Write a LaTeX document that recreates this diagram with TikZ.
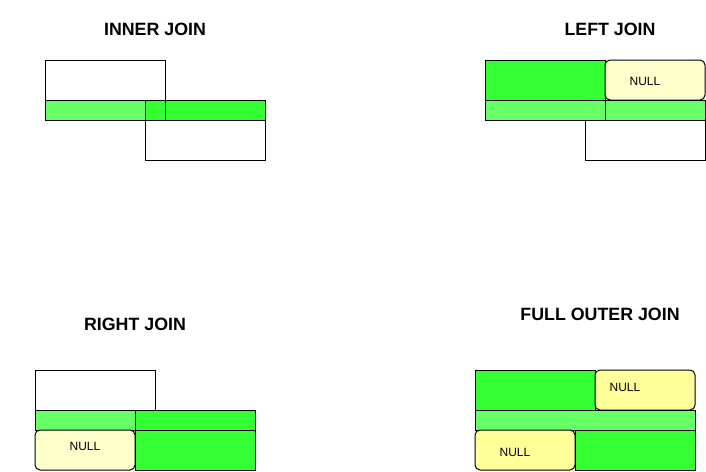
\documentclass[tikz,border=0pt]{standalone}
\usepackage{fontspec}
\setmainfont{Liberation Sans}
\usetikzlibrary{positioning}

\definecolor{hitgreen}{HTML}{33FF33}
\definecolor{keygreen}{HTML}{66FF66}
\definecolor{nullpale}{HTML}{FFFFCC}
\definecolor{nullyellow}{HTML}{FFFF99}

\begin{document}
\begin{tikzpicture}[
    x=1pt, y=-1pt,
    every node/.style={inner sep=0pt, outer sep=0pt},
    every label/.style={font=\fontsize{12}{14}\selectfont},
    cell/.style={draw, line width=1pt, minimum width=#1, minimum height=40pt,
                 anchor=north west},
    cell/.default=120pt,
    plaincell/.style={cell=#1, fill=white},
    plaincell/.default=120pt,
    hitcell/.style={cell=#1, fill=hitgreen},
    hitcell/.default=120pt,
    nullcell/.style={cell=#1, rounded corners=5pt, fill=nullpale},
    nullcell/.default=100pt,
    keybar/.style={draw, line width=1pt, minimum width=#1, minimum height=20pt,
                   anchor=north west, fill=keygreen},
    keybar/.default=120pt,
    hitbar/.style={keybar=#1, fill=hitgreen},
    hitbar/.default=120pt,
    title/.style={font=\fontsize{17.8}{20}\selectfont\bfseries},
    edge/.style={line width=1pt},
]
\useasboundingbox (0,0) rectangle (706,471);

% --------- Inner join ----------
\node[title] (innerTitle) at (155,29) {INNER JOIN};
\node[plaincell] (innerA)    at (45,60)   {};
\node[keybar]    (innerKeyA) at (45,100)  {};
\node[hitbar]    (innerKeyB) at (145,100) {};
\draw[edge] (innerA.south east) -- (innerKeyA.south east);
\node[plaincell] (innerB)    at (145,120) {};

% --------- Left join ----------
\node[title] (leftTitle) at (610,29) {LEFT JOIN};
\node[hitcell]  (leftA)    at (485,60)  {};
\node[nullcell, label={[xshift=-10pt, yshift=-1pt]center:NULL}] (leftNull) at (605,60) {};
\node[keybar]   (leftKeyA) at (485,100) {};
\node[keybar=100pt] (leftKeyB) at (605,100) {};
\node[plaincell] (leftB)   at (585,120) {};

% --------- Right join ----------
\node[title] (rightTitle) at (135,324) {RIGHT JOIN};
\node[plaincell] (rightA)    at (35,370)  {};
\node[keybar=100pt] (rightKeyA) at (35,410) {};
\node[hitbar]    (rightKeyB) at (135,410) {};
\node[nullcell, label={[yshift=4pt]center:NULL}] (rightNull) at (35,430) {};
\node[hitcell]   (rightB)    at (135,430) {};

% --------- Full outer join ----------
\node[title] (fullTitle) at (600,314) {FULL OUTER JOIN};
\node[hitcell] (fullA) at (475,370) {};
\node[nullcell, fill=nullyellow, label={[xshift=-20pt, yshift=3pt]center:NULL}] (fullNullB) at (595,370) {};
\node[keybar=220pt] (fullKey) at (475,410) {};
\node[nullcell, fill=nullyellow, label={[xshift=-10pt, yshift=-2pt]center:NULL}] (fullNullA) at (475,430) {};
\node[hitcell] (fullB) at (575,430) {};

\end{tikzpicture}
\end{document}
